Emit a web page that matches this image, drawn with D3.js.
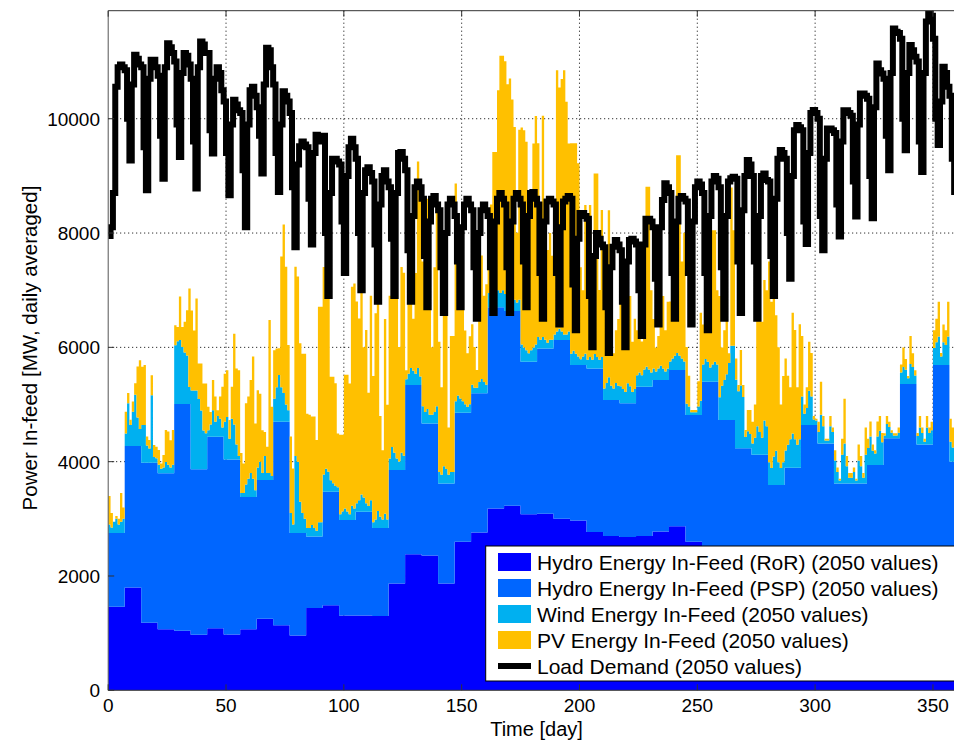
<!DOCTYPE html>
<html><head><meta charset="utf-8">
<script src="https://cdn.jsdelivr.net/npm/d3@7"></script>
<style>body{margin:0;background:#fff}svg{display:block}text{font-family:"Liberation Sans",Arial,sans-serif;fill:#000}</style>
</head><body><svg id="c" width="954" height="742"></svg>
<script>
const xTicks=[0,50,100,150,200,250,300,350];
const yTicks=[0,2000,4000,6000,8000,10000];
const legendLabels=["Hydro Energy In-Feed (RoR) (2050 values)","Hydro Energy In-Feed (PSP) (2050 values)","Wind Energy In-Feed (2050 values)","PV Energy In-Feed (2050 values)","Load Demand (2050 values)"];
// weekly (7-day) values
const rorWeekly=[1460,1800,1180,1070,1040,970,1085,975,1070,1250,1140,960,1440,1490,1310,1310,1300,1870,2380,2360,1870,2600,2760,3180,3230,3080,3090,3000,2970,2770,2700,2680,2700,2780,2870,2600,2500,2450,2400,2350,2300,2250,2200,2100,2050,2000,1950,1900,1850,1800,1750,1700,1700];
const pspWeekly=[1290,2473,2801,2726,3968,2896,3351,3065,2310,2430,3558,1790,1250,1984,1669,1814,1538,1985,2960,2310,1750,2256,2435,3520,3405,2668,2892,3127,2720,2862,2378,2340,2611,2648,2733,2215,2898,2278,1833,1770,1290,1644,2440,2220,1570,1620,1991,2508,3508,2500,3940,2300,2300];
// daily values
const wind=[150,100,200,250,150,200,250,220,750,370,600,900,500,300,660,660,300,250,1180,100,80,150,80,100,200,150,100,150,1030,1100,1120,1000,900,850,300,1380,1380,1380,1230,1030,680,630,114,214,464,264,364,314,164,660,740,360,710,610,260,60,70,70,220,320,420,320,120,220,320,120,420,120,120,70,402,602,817,602,502,302,202,350,150,1350,1250,550,350,250,150,150,200,150,100,250,250,300,400,350,200,150,100,80,100,150,200,150,100,250,200,150,200,300,250,150,100,200,100,150,300,200,150,250,150,200,400,300,200,150,300,250,100,200,300,250,200,300,150,300,200,250,150,150,200,300,200,150,300,250,150,200,200,200,300,250,200,150,100,150,150,100,100,200,250,200,150,250,300,400,350,300,250,300,300,350,300,250,200,150,200,300,250,200,150,200,250,300,200,150,200,150,100,150,150,100,150,200,150,100,100,150,200,250,200,150,100,150,200,150,200,150,250,200,150,200,200,300,400,250,200,300,250,300,250,200,350,300,200,250,200,250,200,300,350,300,250,200,150,200,250,200,150,200,150,200,250,300,250,200,150,200,150,50,50,50,150,250,300,400,350,250,300,350,300,400,600,700,800,1000,1300,1300,1200,1000,1100,900,200,300,250,200,300,500,400,300,600,500,400,300,500,600,400,300,400,300,400,500,600,500,400,500,500,200,300,600,500,100,80,200,500,300,50,50,300,200,400,200,50,500,700,300,100,100,200,50,400,300,100,500,300,500,250,200,500,600,400,50,250,200,100,50,50,100,200,300,250,100,350,300,150,150,300,200,50,300,200,250,300,400,500,150,400,350,500,350,250,400,300,200,350,300,300];
const pv=[500,250,0,50,100,500,200,380,180,90,180,200,890,1200,1020,1050,160,150,350,210,200,260,90,220,560,580,480,610,350,250,760,350,540,790,1720,1400,1050,1610,620,820,820,870,410,220,530,440,100,390,710,840,820,330,560,1590,1330,1500,700,520,1420,1440,1630,2140,1170,1350,1190,750,420,460,2680,1210,850,680,470,2290,2950,2410,1140,1340,980,3310,3240,2770,2790,2890,2000,1980,1900,1950,1590,3770,3770,3630,3630,3410,1810,1860,1800,940,1390,1340,2340,2390,2290,3830,3940,3530,3180,3580,2630,3030,1980,3580,2560,3610,4060,1760,1210,3410,2010,2850,3350,3150,2850,2000,3250,3200,160,2060,2560,910,1760,3610,3310,2530,1930,3680,2180,1180,2530,3640,2280,1530,3080,2930,830,2380,2380,3810,2440,2090,1740,1290,940,1190,1060,710,310,1410,2160,1510,1760,650,1500,2320,2370,3500,4150,4100,4070,3620,3770,3450,3020,1220,2970,3800,3800,3650,2600,2450,3570,4000,3390,2370,3870,1870,1620,1870,1470,2170,4570,4220,4420,4620,4070,3290,3680,3630,3680,3380,1610,1160,2600,1220,2660,1620,3160,3210,1220,2570,1520,1820,2920,870,620,920,1170,1680,1030,780,1430,1580,880,1230,790,1140,590,1990,3150,3200,1440,870,420,570,1320,1270,720,1170,1050,1400,2350,3460,3510,1700,2250,990,540,40,40,40,440,1540,700,1400,1650,1150,2350,2300,1300,1770,670,870,1270,170,2770,2020,370,110,620,210,120,370,420,380,580,2440,2680,2030,2460,2380,3510,2910,3090,2370,2010,1110,1510,1610,1210,910,2110,1910,1010,2010,1060,160,360,860,760,60,30,180,580,180,30,30,180,80,180,80,30,280,780,180,80,80,80,30,280,180,80,480,160,260,110,60,260,260,160,40,140,90,40,40,40,90,140,340,190,40,490,240,90,50,200,100,50,200,100,150,310,410,610,60,310,260,610,400,350,500,300,250,450,400,400];
const load=[7950,8100,8700,10560,10900,10950,10900,10850,10000,9270,10600,11120,11050,10950,10900,9500,8750,10700,11030,11030,10900,10750,9700,8950,10900,11320,11250,11150,11000,9900,9330,10800,11150,11100,10950,10700,9600,8780,10900,11350,11300,11150,11150,9800,9390,10700,10900,10800,10500,10300,9400,8660,9900,10330,10250,10150,10100,9100,8100,9900,10500,10560,10400,10200,9700,9040,10600,11240,11200,10900,10600,9400,8720,9900,10480,10400,10300,10100,8800,7750,9200,9520,9600,9550,9500,8600,7800,9400,9720,9650,9600,9700,8000,6900,8700,9300,9300,9250,9200,8200,7300,9000,9500,9650,9500,9300,8000,7000,8700,9100,9150,9050,8900,7800,6800,8500,9000,9100,8900,8800,7900,6900,8700,9400,9420,9300,9100,7700,6800,8300,8800,8900,8800,8600,7600,6700,8200,8600,8650,8500,8400,7400,6600,8000,8500,8600,8500,8300,7500,6700,8100,8500,8600,8500,8400,7400,6500,8000,8400,8500,8400,8300,7400,6600,8200,8600,8700,8600,8500,7400,6600,8200,8600,8700,8600,8500,7500,6700,8300,8700,8720,8600,8500,7300,6500,8200,8550,8600,8550,8500,7300,6400,8100,8550,8600,8650,8600,7100,6300,7900,8350,8350,8300,8250,6900,6000,7600,8000,7900,7800,7750,6700,5900,7400,7760,7880,7800,7700,6800,6000,7500,7880,7900,7850,7800,7000,6200,7800,8250,8250,8200,8100,7200,6400,8100,8580,8870,8800,8700,7300,6500,8200,8600,8650,8600,8550,7300,6400,8200,8800,8900,8850,8700,7300,6300,8300,8900,9000,8950,8800,7400,6500,8300,8900,8960,8985,8950,7500,6600,8400,9000,9277,9200,9000,7500,6500,8300,9000,9040,8927,8900,7600,6900,8600,9300,9452,9400,9300,8000,7200,9000,9800,9889,9850,9800,8200,7810,9400,10100,10151,10100,10000,8300,7700,9300,9830,9830,9800,9750,8500,7940,9600,10150,10150,10100,10050,8900,8290,9900,10443,10443,10400,10350,9000,8260,10200,10967,10850,10792,10700,9700,9100,10800,11579,11521,11500,11400,10000,9450,10800,11288,11200,11084,11000,9600,9070,10800,11700,11871,11800,11400,10000,9540,10300,10909,10800,10560,10400,9300,8720,9500,10000,10200,10300,10300];

const colors={ror:"#0000ff",psp:"#0066ff",wind:"#00b0f0",pv:"#ffc000"};
const svg=d3.select("#c");
const pLeft=108.2, pTop=10.7, pBottom=690.3;
const x=d3.scaleLinear().domain([0,365]).range([pLeft,pLeft+365*2.3564]);
const y=d3.scaleLinear().domain([0,11890]).range([pBottom,pTop]);

const rows=load.map((v,i)=>({day:i,ror:rorWeekly[Math.floor(i/7)],psp:pspWeekly[Math.floor(i/7)],wind:wind[i]||0,pv:pv[i]||0,load:v}));
rows.push(Object.assign({},rows[rows.length-1],{day:365}));

svg.append("defs").append("clipPath").attr("id","clip").append("rect")
  .attr("x",pLeft).attr("y",pTop).attr("width",954-pLeft).attr("height",pBottom-pTop);

// grid
const g=svg.append("g");
g.selectAll(".gx").data(xTicks.slice(1)).join("line")
  .attr("x1",d=>x(d)).attr("x2",d=>x(d)).attr("y1",pTop).attr("y2",pBottom)
  .attr("stroke","#000").attr("stroke-width",1).attr("stroke-dasharray","1,3");
g.selectAll(".gy").data(yTicks.slice(1)).join("line")
  .attr("x1",pLeft).attr("x2",954).attr("y1",d=>y(d)).attr("y2",d=>y(d))
  .attr("stroke","#000").attr("stroke-width",1).attr("stroke-dasharray","1,3");

const stack=d3.stack().keys(["ror","psp","wind","pv"])(rows);
const area=d3.area().x(d=>x(d.data.day)).y0(d=>y(d[0])).y1(d=>y(d[1])).curve(d3.curveStepAfter);
const plot=svg.append("g").attr("clip-path","url(#clip)");
plot.selectAll("path.layer").data(stack).join("path").attr("class","layer")
  .attr("fill",d=>colors[d.key]).attr("d",area);
plot.append("path").datum(rows).attr("fill","none").attr("stroke","#000")
  .attr("stroke-width",6).attr("stroke-linejoin","miter")
  .attr("d",d3.line().x(d=>x(d.day)).y(d=>y(d.load)).curve(d3.curveStepAfter));

// axes frame
svg.append("line").attr("x1",pLeft).attr("x2",954).attr("y1",pBottom).attr("y2",pBottom).attr("stroke","#333");
svg.append("line").attr("x1",pLeft).attr("x2",954).attr("y1",pTop).attr("y2",pTop).attr("stroke","#333");
svg.append("line").attr("x1",pLeft).attr("x2",pLeft).attr("y1",pTop).attr("y2",pBottom).attr("stroke","#555");
// ticks
xTicks.forEach(t=>{
  svg.append("line").attr("x1",x(t)).attr("x2",x(t)).attr("y1",pBottom).attr("y2",pBottom-6).attr("stroke","#333");
  svg.append("line").attr("x1",x(t)).attr("x2",x(t)).attr("y1",pTop).attr("y2",pTop+6).attr("stroke","#333");
  svg.append("text").attr("x",x(t)).attr("y",712).attr("text-anchor","middle").attr("font-size",19).text(t);
});
yTicks.forEach(t=>{
  svg.append("line").attr("x1",pLeft).attr("x2",pLeft+6).attr("y1",y(t)).attr("y2",y(t)).attr("stroke","#333");
  svg.append("text").attr("x",100).attr("y",y(t)+7).attr("text-anchor","end").attr("font-size",19).text(t);
});
svg.append("text").attr("x",536.5).attr("y",736).attr("text-anchor","middle").attr("font-size",20).text("Time [day]");
svg.append("text").attr("transform","translate(37,348) rotate(-90)").attr("text-anchor","middle").attr("font-size",20.5).text("Power In-feed [MW, daily averaged]");

// legend
const lg=svg.append("g");
lg.append("rect").attr("x",485.7).attr("y",546).attr("width",520).attr("height",135).attr("fill","#fff").attr("stroke","#000");
const keys=["ror","psp","wind","pv"];
legendLabels.forEach((lab,i)=>{
  const cy=562+i*26;
  if(i<4) lg.append("rect").attr("x",498).attr("y",cy-9).attr("width",33).attr("height",18).attr("fill",colors[keys[i]]);
  else lg.append("line").attr("x1",498).attr("x2",531).attr("y1",cy).attr("y2",cy).attr("stroke","#000").attr("stroke-width",6);
  lg.append("text").attr("x",537).attr("y",cy+7.5).attr("font-size",21).text(lab);
});
</script></body></html>
